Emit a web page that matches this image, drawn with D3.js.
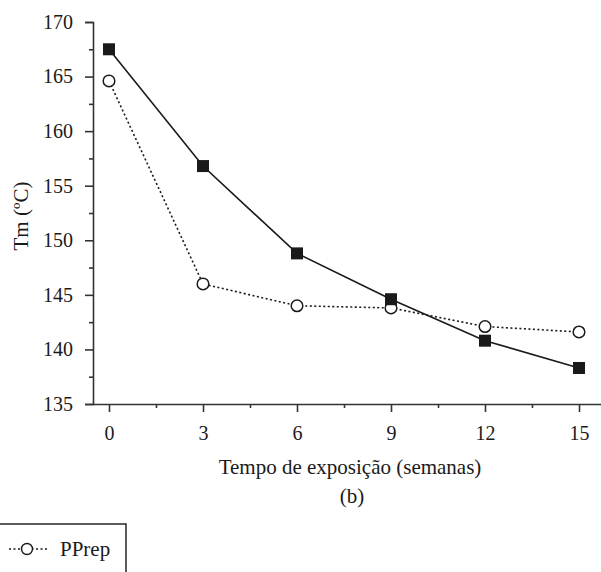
<!DOCTYPE html>
<html>
<head>
<meta charset="utf-8">
<script src="https://cdn.jsdelivr.net/npm/d3@7"></script>
<style>
  body { margin: 0; background: #fff; }
  svg { display: block; }
  svg text { font-family: "Liberation Serif", "DejaVu Serif", serif !important; }
</style>
</head>
<body>
<div id="chart"></div>
<script>
// weeks of exposure
const weeks = [0, 3, 6, 9, 12, 15];
// Tm values (°C)
const ppSquares = [167.5, 156.8, 148.8, 144.6, 140.8, 138.3];
const ppCircles = [164.6, 146.0, 144.0, 143.8, 142.1, 141.6];
const yTicks = [135, 140, 145, 150, 155, 160, 165, 170];
const xTicks = [0, 3, 6, 9, 12, 15];
const legendLabels = ["PPrep"];

const width = 601, height = 572;
const ink = "#1a1a1a";

const x = d3.scaleLinear().domain([0, 15]).range([109, 579]);
const y = d3.scaleLinear().domain([135, 170]).range([404, 22]);

const svg = d3.select("#chart").append("svg")
    .attr("width", width)
    .attr("height", height);

// y axis
svg.append("g")
    .attr("transform", "translate(93,0)")
    .call(d3.axisLeft(y).tickValues(yTicks).tickSize(8).tickPadding(12).tickFormat(d3.format("d")));
svg.append("g")
    .attr("transform", "translate(93,0)")
    .call(d3.axisLeft(y).tickValues(d3.range(137.5, 170, 5)).tickSize(4).tickFormat(""))
    .call(g => g.select(".domain").remove());

// x axis
const xAxis = svg.append("g")
    .attr("transform", "translate(0,404)")
    .call(d3.axisBottom(x).tickValues(xTicks).tickSize(8).tickPadding(14).tickFormat(d3.format("d")));
xAxis.select(".domain").attr("d", "M93,0.5H601");
svg.append("g")
    .attr("transform", "translate(0,404)")
    .call(d3.axisBottom(x).tickValues(d3.range(1.5, 15, 3)).tickSize(4).tickFormat(""))
    .call(g => g.select(".domain").remove());

svg.selectAll("g").attr("font-family", null).attr("font-size", null);
svg.selectAll(".tick line, .domain").attr("stroke", "#333").attr("stroke-width", 1.6);
svg.selectAll(".tick text")
    .attr("fill", ink)
    .style("font-size", "20px");

// axis titles
svg.append("text")
    .attr("x", 350).attr("y", 474)
    .attr("text-anchor", "middle")
    .attr("fill", ink)
    .style("font-size", "21px")
    .text("Tempo de exposição (semanas)");
svg.append("text")
    .attr("x", 352).attr("y", 503)
    .attr("text-anchor", "middle")
    .attr("fill", ink)
    .style("font-size", "21px")
    .text("(b)");
svg.append("text")
    .attr("transform", "translate(28,216) rotate(-90)")
    .attr("text-anchor", "middle")
    .attr("fill", ink)
    .style("font-size", "21px")
    .text("Tm (ºC)");

const line = d3.line().x((d, i) => x(weeks[i])).y(d => y(d));

// dotted series with open circles
svg.append("path")
    .datum(ppCircles)
    .attr("d", line)
    .attr("fill", "none")
    .attr("stroke", ink)
    .attr("stroke-width", 1.6)
    .attr("stroke-dasharray", "2,2.5");
svg.selectAll(".circ")
    .data(ppCircles)
    .join("circle")
    .attr("class", "circ")
    .attr("cx", (d, i) => x(weeks[i]))
    .attr("cy", d => y(d))
    .attr("r", 5.8)
    .attr("fill", "#fff")
    .attr("stroke", ink)
    .attr("stroke-width", 1.5);

// solid series with filled squares
svg.append("path")
    .datum(ppSquares)
    .attr("d", line)
    .attr("fill", "none")
    .attr("stroke", ink)
    .attr("stroke-width", 1.6);
svg.selectAll(".sq")
    .data(ppSquares)
    .join("rect")
    .attr("class", "sq")
    .attr("x", (d, i) => x(weeks[i]) - 6)
    .attr("y", d => y(d) - 6)
    .attr("width", 12)
    .attr("height", 12)
    .attr("fill", ink);

// legend (cut off at the bottom-left, as in the source)
const legend = svg.append("g");
legend.append("rect")
    .attr("x", -5).attr("y", 524)
    .attr("width", 131).attr("height", 70)
    .attr("fill", "none")
    .attr("stroke", "#333")
    .attr("stroke-width", 1.6);
legend.append("line")
    .attr("x1", 9).attr("x2", 48)
    .attr("y1", 549).attr("y2", 549)
    .attr("stroke", ink)
    .attr("stroke-width", 1.4)
    .attr("stroke-dasharray", "2,2.5");
legend.append("circle")
    .attr("cx", 27).attr("cy", 549)
    .attr("r", 5.5)
    .attr("fill", "#fff")
    .attr("stroke", ink)
    .attr("stroke-width", 1.4);
legend.append("text")
    .attr("x", 60).attr("y", 556)
    .attr("fill", ink)
    .style("font-size", "21px")
    .text(legendLabels[0]);
</script>
</body>
</html>
